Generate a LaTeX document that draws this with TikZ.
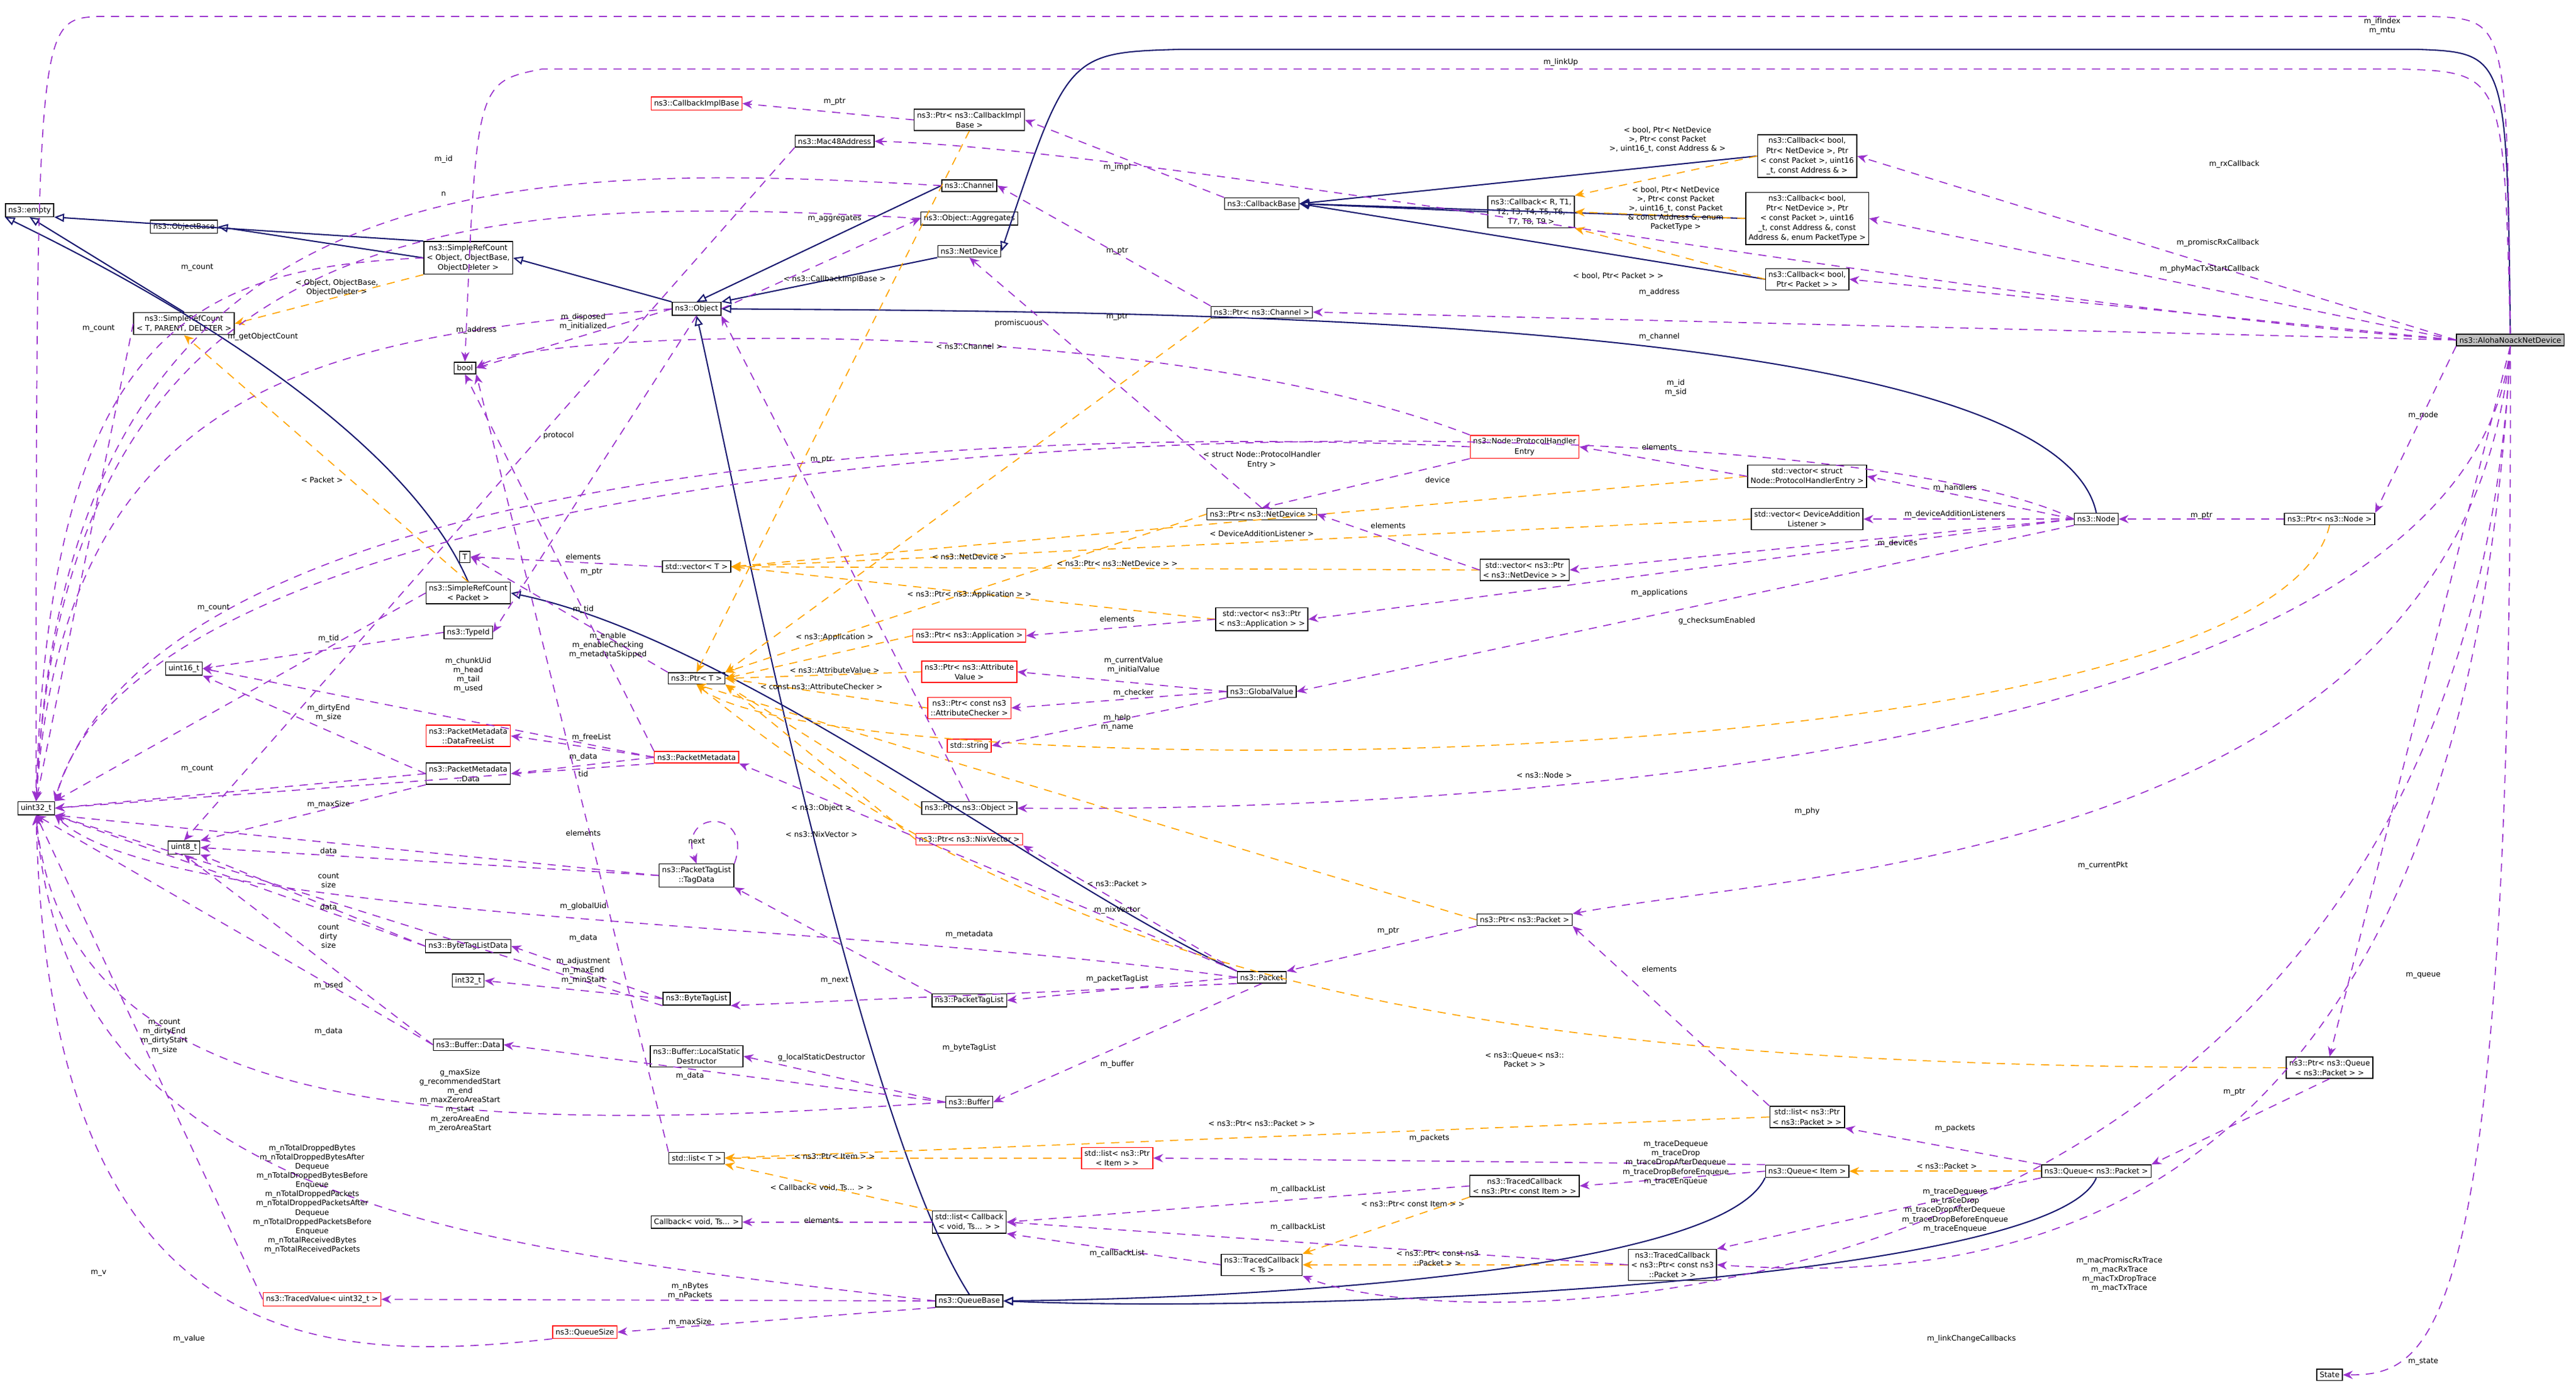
\documentclass[tikz,border=0pt]{standalone}
\usepackage{fontspec}
\newfontfamily\dox{DejaVu Sans}
\usetikzlibrary{arrows.meta}
\definecolor{usecol}{HTML}{9A32CD}
\definecolor{tplcol}{HTML}{FFA500}
\definecolor{inhcol}{HTML}{191970}
\tikzset{
  cls/.style={draw=black, fill=white, line width=1.5pt, font=\dox\fontsize{13}{17}\selectfont, inner sep=5pt, align=center},
  redcls/.style={cls, draw=red},
  maincls/.style={cls, fill=black!25},
  lbl/.style={font=\dox\fontsize{13}{16}\selectfont, align=center, inner sep=1pt},
  use/.style={draw=usecol, line width=1.8pt, dash pattern=on 5mm off 4mm, -{Stealth[length=6mm,width=5mm]}},
  tpl/.style={draw=tplcol, line width=1.8pt, dash pattern=on 5mm off 4mm, -{Stealth[length=6mm,width=5mm]}},
  inh/.style={draw=inhcol, line width=2.2pt, -{Triangle[open,length=6mm,width=5mm]}},
}
\begin{document}
\begin{tikzpicture}[x=1mm,y=-1mm]
\useasboundingbox[fill=white] (0,0) rectangle (1568,848);
% classes
\node[maincls] (aloha) at (1528,207) {ns3::AlohaNoackNetDevice};
\node[cls] (empty) at (18,128) {ns3::empty};
\node[cls] (objbase) at (112,138) {ns3::ObjectBase};
\node[cls] (srcobj) at (285,157) {ns3::SimpleRefCount\\< Object, ObjectBase,\\ ObjectDeleter >};
\node[cls] (srctpd) at (112,197) {ns3::SimpleRefCount\\< T, PARENT, DELETER >};
\node[cls] (boolt) at (283,224) {bool};
\node[cls] (uint32) at (22,492) {uint32\_t};
\node[redcls] (cbimpl) at (424,63) {ns3::CallbackImplBase};
\node[cls] (mac48) at (508,86) {ns3::Mac48Address};
\node[cls] (ptrcbimpl) at (590,73) {ns3::Ptr< ns3::CallbackImpl\\Base >};
\node[cls] (channel) at (590,113) {ns3::Channel};
\node[cls] (aggr) at (590,133) {ns3::Object::Aggregates};
\node[cls] (netdev) at (590,153) {ns3::NetDevice};
\node[cls] (object) at (424,188) {ns3::Object};
\node[cls] (cbbase) at (768,124) {ns3::CallbackBase};
\node[cls] (cbrx) at (1100,95) {ns3::Callback< bool,\\ Ptr< NetDevice >, Ptr\\< const Packet >, uint16\\\_t, const Address \& >};
\node[cls] (cbgen) at (932,129) {ns3::Callback< R, T1,\\ T2, T3, T4, T5, T6,\\ T7, T8, T9 >};
\node[cls] (cbprom) at (1100,133) {ns3::Callback< bool,\\ Ptr< NetDevice >, Ptr\\< const Packet >, uint16\\\_t, const Address \&, const\\ Address \&, enum PacketType >};
\node[cls] (cbtx) at (1100,170) {ns3::Callback< bool,\\ Ptr< Packet > >};
\node[cls] (ptrchan) at (768,190) {ns3::Ptr< ns3::Channel >};
\node[redcls] (phe) at (928,272) {ns3::Node::ProtocolHandler\\Entry};
\node[cls] (vecphe) at (1100,290) {std::vector< struct\\ Node::ProtocolHandlerEntry >};
\node[cls] (vecdal) at (1100,316) {std::vector< DeviceAddition\\Listener >};
\node[cls] (node) at (1276,316) {ns3::Node};
\node[cls] (ptrnode) at (1418,316) {ns3::Ptr< ns3::Node >};
\node[cls] (ptrnetdev) at (768,313) {ns3::Ptr< ns3::NetDevice >};
\node[cls] (vecnetdev) at (928,347) {std::vector< ns3::Ptr\\< ns3::NetDevice > >};
\node[cls] (vecapp) at (768,377) {std::vector< ns3::Ptr\\< ns3::Application > >};
\node[redcls] (ptrapp) at (590,387) {ns3::Ptr< ns3::Application >};
\node[cls] (tt) at (283,339) {T};
\node[cls] (vect) at (424,345) {std::vector< T >};
\node[cls] (srcpkt) at (285,361) {ns3::SimpleRefCount\\< Packet >};
\node[cls] (typeid) at (285,385) {ns3::TypeId};
\node[cls] (uint16) at (112,407) {uint16\_t};
\node[cls] (ptrt) at (424,413) {ns3::Ptr< T >};
\node[redcls] (ptrattr) at (590,409) {ns3::Ptr< ns3::Attribute\\Value >};
\node[redcls] (ptrchk) at (590,431) {ns3::Ptr< const ns3\\::AttributeChecker >};
\node[cls] (globval) at (768,421) {ns3::GlobalValue};
\node[redcls] (string) at (590,454) {std::string};
\node[redcls] (freelist) at (285,448) {ns3::PacketMetadata\\::DataFreeList};
\node[redcls] (pktmeta) at (424,461) {ns3::PacketMetadata};
\node[cls] (metadata) at (285,471) {ns3::PacketMetadata\\::Data};
\node[cls] (uint8) at (112,516) {uint8\_t};
\node[cls] (ptrobj) at (590,492) {ns3::Ptr< ns3::Object >};
\node[redcls] (ptrnix) at (590,511) {ns3::Ptr< ns3::NixVector >};
\node[cls] (tagdata) at (424,533) {ns3::PacketTagList\\::TagData};
\node[cls] (btldata) at (285,576) {ns3::ByteTagListData};
\node[cls] (int32) at (285,597) {int32\_t};
\node[cls] (btl) at (424,608) {ns3::ByteTagList};
\node[cls] (ptl) at (590,609) {ns3::PacketTagList};
\node[cls] (packet) at (768,595) {ns3::Packet};
\node[cls] (ptrpkt) at (928,560) {ns3::Ptr< ns3::Packet >};
\node[cls] (bufdata) at (285,636) {ns3::Buffer::Data};
\node[cls] (lsd) at (424,643) {ns3::Buffer::LocalStatic\\Destructor};
\node[cls] (buffer) at (590,671) {ns3::Buffer};
\node[cls] (listt) at (424,705) {std::list< T >};
\node[cls] (cbvoid) at (424,744) {Callback< void, Ts... >};
\node[redcls] (listitem) at (680,705) {std::list< ns3::Ptr\\< Item > >};
\node[cls] (listcb) at (590,744) {std::list< Callback\\< void, Ts... > >};
\node[cls] (listpkt) at (1100,680) {std::list< ns3::Ptr\\< ns3::Packet > >};
\node[cls] (tcitem) at (928,722) {ns3::TracedCallback\\< ns3::Ptr< const Item > >};
\node[cls] (queueitem) at (1100,713) {ns3::Queue< Item >};
\node[cls] (queuepkt) at (1276,713) {ns3::Queue< ns3::Packet >};
\node[cls] (ptrqueue) at (1418,650) {ns3::Ptr< ns3::Queue\\< ns3::Packet > >};
\node[cls] (tcts) at (768,770) {ns3::TracedCallback\\< Ts >};
\node[cls] (tcpkt) at (1018,770) {ns3::TracedCallback\\< ns3::Ptr< const ns3\\::Packet > >};
\node[cls] (queuebase) at (590,792) {ns3::QueueBase};
\node[redcls] (tracedval) at (196,791) {ns3::TracedValue< uint32\_t >};
\node[redcls] (queuesize) at (356,811) {ns3::QueueSize};
\node[cls] (state) at (1418,837) {State};

% inheritance
\draw[inh] (aloha.north) .. controls (1526,32) .. (1470,30) -- (720,30) .. controls (650,32) .. (netdev.east);
\draw[inh] (srcobj.north west) -- (empty.south east);
\draw[inh] (srctpd.north) -- (empty.south);
\draw[inh] (srcobj.west) -- (objbase.east);
\draw[inh] (object.north west) -- (srcobj.east);
\draw[inh] (channel.west) -- (object.north);
\draw[inh] (netdev.south west) -- (object.north east);
\draw[inh] (node.north) .. controls (1250,190) and (700,190) .. (object.east);
\draw[inh] (srcpkt.north) .. controls (240,250) and (60,160) .. (empty.south west);
\draw[inh] (packet.north west) .. controls (640,540) and (450,390) .. (srcpkt.east);
\draw[inh] (queuebase.north) .. controls (520,680) and (440,260) .. (object.south);
\draw[inh] (queueitem.south west) .. controls (1050,770) and (800,790) .. (queuebase.east);
\draw[inh] (queuepkt.south) .. controls (1250,780) and (800,800) .. (queuebase.east);
\foreach \c in {cbrx,cbgen,cbprom,cbtx} \draw[inh] (\c.west) -- (cbbase.east);

% templates
\draw[tpl] (cbrx.west) -- (cbgen.north east);
\draw[tpl] (cbprom.west) -- (cbgen.east);
\draw[tpl] (cbtx.west) -- (cbgen.south east);
\draw[tpl] (srcobj.south west) -- (srctpd.east);
\draw[tpl] (srcpkt.north) -- (srctpd.south);
\draw[tpl] (ptrcbimpl.south) -- (ptrt.north);
\draw[tpl] (ptrchan.south west) -- (ptrt.north east);
\draw[tpl] (vecphe.west) -- (vect.east);
\draw[tpl] (vecdal.west) -- (vect.east);
\draw[tpl] (vecnetdev.west) -- (vect.east);
\draw[tpl] (vecapp.west) -- (vect.east);
\draw[tpl] (ptrnetdev.west) -- (ptrt.north east);
\draw[tpl] (ptrapp.west) -- (ptrt.east);
\draw[tpl] (ptrattr.west) -- (ptrt.east);
\draw[tpl] (ptrchk.west) -- (ptrt.east);
\draw[tpl] (ptrnode.south) .. controls (1380,480) and (500,480) .. (ptrt.south);
\draw[tpl] (ptrobj.west) -- (ptrt.south east);
\draw[tpl] (ptrnix.west) -- (ptrt.south east);
\draw[tpl] (ptrpkt.west) -- (ptrt.south);
\draw[tpl] (ptrqueue.west) .. controls (900,650) and (650,600) .. (ptrt.south);
\draw[tpl] (listpkt.west) -- (listt.east);
\draw[tpl] (listitem.west) -- (listt.east);
\draw[tpl] (listcb.north west) -- (listt.south east);
\draw[tpl] (queuepkt.west) -- (queueitem.east);
\draw[tpl] (tcitem.south west) -- (tcts.north east);
\draw[tpl] (tcpkt.west) -- (tcts.east);

% usage
\draw[use] (aloha.north) .. controls (1526,12) .. (1480,10) -- (60,10) .. controls (22,12) .. (uint32.north);
\draw[use] (aloha.north) .. controls (1524,44) .. (1460,42) -- (330,42) .. controls (290,50) .. (boolt.north);
\draw[use] (aloha.west) -- (cbrx.east);
\draw[use] (aloha.west) -- (cbprom.east);
\draw[use] (aloha.west) -- (cbtx.east);
\draw[use] (aloha.west) .. controls (1200,185) and (700,90) .. (mac48.east);
\draw[use] (aloha.west) -- (ptrchan.east);
\draw[use] (aloha.south west) -- (ptrnode.north east);
\draw[use] (aloha.south) .. controls (1500,480) and (800,494) .. (ptrobj.east);
\draw[use] (aloha.south) .. controls (1500,520) and (1100,530) .. (ptrpkt.north east);
\draw[use] (aloha.south) -- (ptrqueue.north);
\draw[use] (aloha.south) .. controls (1500,770) and (1200,780) .. (tcpkt.east);
\draw[use] (aloha.south) .. controls (1500,810) and (900,820) .. (tcts.south east);
\draw[use] (aloha.south) .. controls (1530,820) and (1480,837) .. (state.east);
\draw[use] (ptrnode.west) -- (node.east);
\draw[use] (node.west) .. controls (1100,236) and (100,236) .. (uint32.north east);
\draw[use] (node.west) -- (vecphe.east);
\draw[use] (node.west) -- (vecdal.east);
\draw[use] (node.west) -- (vecnetdev.east);
\draw[use] (node.west) -- (vecapp.east);
\draw[use] (node.south west) -- (globval.east);
\draw[use] (vecphe.west) -- (phe.east);
\draw[use] (phe.south west) -- (ptrnetdev.north);
\draw[use] (phe.west) .. controls (700,262) and (100,262) .. (uint32.north east);
\draw[use] (phe.north west) .. controls (700,190) and (330,200) .. (boolt.east);
\draw[use] (vecnetdev.west) -- (ptrnetdev.east);
\draw[use] (ptrnetdev.north) -- (netdev.south);
\draw[use] (vecapp.west) -- (ptrapp.east);
\draw[use] (globval.west) -- (ptrattr.east);
\draw[use] (globval.west) -- (ptrchk.east);
\draw[use] (globval.south west) -- (string.east);
\draw[use] (ptrchan.north west) -- (channel.east);
\draw[use] (channel.west) .. controls (300,97) and (40,100) .. (uint32.north);
\draw[use] (ptrcbimpl.west) -- (cbimpl.east);
\draw[use] (cbbase.north west) -- (ptrcbimpl.east);
\draw[use] (mac48.south west) -- (uint8.north);
\draw[use] (object.east) -- (aggr.west);
\draw[use] (aggr.west) .. controls (300,118) and (40,120) .. (uint32.north);
\draw[use] (object.west) -- (boolt.east);
\draw[use] (object.west) .. controls (200,205) and (40,230) .. (uint32.north);
\draw[use] (object.south) -- (typeid.east);
\draw[use] (srcobj.west) .. controls (120,163) and (30,200) .. (uint32.north);
\draw[use] (srctpd.west) -- (uint32.north);
\draw[use] (srcpkt.west) -- (uint32.north east);
\draw[use] (typeid.west) -- (uint16.east);
\draw[use] (ptrt.north west) -- (tt.east);
\draw[use] (vect.west) -- (tt.east);
\draw[use] (pktmeta.west) -- (uint16.east);
\draw[use] (pktmeta.north west) -- (boolt.south);
\draw[use] (pktmeta.west) -- (freelist.east);
\draw[use] (pktmeta.west) -- (metadata.east);
\draw[use] (pktmeta.south west) -- (uint32.east);
\draw[use] (metadata.west) -- (uint16.south east);
\draw[use] (metadata.west) -- (uint32.east);
\draw[use] (metadata.south west) -- (uint8.north east);
\draw[use] (tagdata.west) -- (uint8.east);
\draw[use] (tagdata.west) -- (uint32.south east);
\draw[use] (tagdata.north east) to[out=70,in=110,looseness=4] (tagdata.north);
\draw[use] (listt.north west) -- (boolt.south east);
\draw[use] (btldata.west) -- (uint8.south east);
\draw[use] (btldata.west) -- (uint32.south east);
\draw[use] (btl.west) -- (btldata.east);
\draw[use] (btl.west) -- (int32.east);
\draw[use] (btl.south west) -- (uint32.south east);
\draw[use] (bufdata.west) -- (uint8.south);
\draw[use] (bufdata.west) -- (uint32.south);
\draw[use] (buffer.west) -- (bufdata.east);
\draw[use] (buffer.west) -- (lsd.east);
\draw[use] (buffer.west) .. controls (300,690) and (40,690) .. (uint32.south);
\draw[use] (packet.south) -- (buffer.east);
\draw[use] (packet.south west) -- (btl.south east);
\draw[use] (packet.west) -- (ptl.east);
\draw[use] (packet.north west) -- (pktmeta.south east);
\draw[use] (packet.north west) -- (ptrnix.south east);
\draw[use] (packet.west) .. controls (500,560) and (100,560) .. (uint32.south east);
\draw[use] (ptl.north west) -- (tagdata.south east);
\draw[use] (ptrpkt.south west) -- (packet.north east);
\draw[use] (ptrobj.north) -- (object.south east);
\draw[use] (ptrqueue.south) -- (queuepkt.north east);
\draw[use] (queuepkt.north west) -- (listpkt.south east);
\draw[use] (queuepkt.south west) -- (tcpkt.north east);
\draw[use] (queueitem.north west) -- (listitem.east);
\draw[use] (queueitem.west) -- (tcitem.east);
\draw[use] (listpkt.north west) -- (ptrpkt.south east);
\draw[use] (tcitem.west) -- (listcb.east);
\draw[use] (tcpkt.west) -- (listcb.east);
\draw[use] (tcts.west) -- (listcb.south east);
\draw[use] (listcb.west) -- (cbvoid.east);
\draw[use] (queuebase.west) .. controls (300,760) and (40,740) .. (uint32.south);
\draw[use] (queuebase.west) -- (tracedval.east);
\draw[use] (queuebase.south west) -- (queuesize.east);
\draw[use] (tracedval.west) -- (uint32.south);
\draw[use] (queuesize.south west) .. controls (200,830) and (30,830) .. (uint32.south);

% labels
\node[lbl] (l1) at (1450,16) {m\_ifIndex\\m\_mtu};
\node[lbl] (l2) at (950,38) {m\_linkUp};
\node[lbl] (l3) at (1360,100) {m\_rxCallback};
\node[lbl] (l4) at (1350,148) {m\_promiscRxCallback};
\node[lbl] (l5) at (1345,164) {m\_phyMacTxStartCallback};
\node[lbl] (l6) at (1010,178) {m\_address};
\node[lbl] (l7) at (1010,205) {m\_channel};
\node[lbl] (l8) at (1475,253) {m\_node};
\node[lbl] (l9) at (1100,494) {m\_phy};
\node[lbl] (l10) at (1280,527) {m\_currentPkt};
\node[lbl] (l11) at (1475,594) {m\_queue};
\node[lbl] (l12) at (1290,776) {m\_macPromiscRxTrace\\m\_macRxTrace\\m\_macTxDropTrace\\m\_macTxTrace};
\node[lbl] (l13) at (1200,815) {m\_linkChangeCallbacks};
\node[lbl] (l14) at (1475,829) {m\_state};
\node[lbl] (l15) at (1340,314) {m\_ptr};
\node[lbl] (l16) at (1020,236) {m\_id\\m\_sid};
\node[lbl] (l17) at (1190,297) {m\_handlers};
\node[lbl] (l18) at (1190,313) {m\_deviceAdditionListeners};
\node[lbl] (l19) at (1155,331) {m\_devices};
\node[lbl] (l20) at (1010,361) {m\_applications};
\node[lbl] (l21) at (1045,378) {g\_checksumEnabled};
\node[lbl] (l22) at (1010,272) {elements};
\node[lbl] (l23) at (875,292) {device};
\node[lbl] (l24) at (340,265) {protocol};
\node[lbl] (l25) at (620,197) {promiscuous};
\node[lbl] (l26) at (845,320) {elements};
\node[lbl] (l27) at (680,193) {m\_ptr};
\node[lbl] (l28) at (680,377) {elements};
\node[lbl] (l29) at (690,405) {m\_currentValue\\m\_initialValue};
\node[lbl] (l30) at (690,422) {m\_checker};
\node[lbl] (l31) at (680,440) {m\_help\\m\_name};
\node[lbl] (l32) at (680,153) {m\_ptr};
\node[lbl] (l33) at (270,97) {m\_id};
\node[lbl] (l34) at (508,62) {m\_ptr};
\node[lbl] (l35) at (680,102) {m\_impl};
\node[lbl] (l36) at (290,201) {m\_address};
\node[lbl] (l37) at (508,133) {m\_aggregates};
\node[lbl] (l38) at (270,118) {n};
\node[lbl] (l39) at (355,196) {m\_disposed\\m\_initialized};
\node[lbl] (l40) at (160,205) {m\_getObjectCount};
\node[lbl] (l41) at (355,371) {m\_tid};
\node[lbl] (l42) at (120,163) {m\_count};
\node[lbl] (l43) at (60,200) {m\_count};
\node[lbl] (l44) at (130,370) {m\_count};
\node[lbl] (l45) at (200,389) {m\_tid};
\node[lbl] (l46) at (360,348) {m\_ptr};
\node[lbl] (l47) at (355,339) {elements};
\node[lbl] (l48) at (285,411) {m\_chunkUid\\m\_head\\m\_tail\\m\_used};
\node[lbl] (l49) at (370,393) {m\_enable\\m\_enableChecking\\m\_metadataSkipped};
\node[lbl] (l50) at (360,449) {m\_freeList};
\node[lbl] (l51) at (355,461) {m\_data};
\node[lbl] (l52) at (200,490) {m\_maxSize};
\node[lbl] (l53) at (200,434) {m\_dirtyEnd\\m\_size};
\node[lbl] (l54) at (120,468) {m\_count};
\node[lbl] (l55) at (200,518) {data};
\node[lbl] (l56) at (200,536) {count\\size};
\node[lbl] (l57) at (424,512) {next};
\node[lbl] (l58) at (355,471) {tid};
\node[lbl] (l59) at (200,552) {data};
\node[lbl] (l60) at (200,570) {count\\dirty\\size};
\node[lbl] (l61) at (355,571) {m\_data};
\node[lbl] (l62) at (355,591) {m\_adjustment\\m\_maxEnd\\m\_minStart};
\node[lbl] (l63) at (200,600) {m\_used};
\node[lbl] (l64) at (200,628) {m\_data};
\node[lbl] (l65) at (100,631) {m\_count\\m\_dirtyEnd\\m\_dirtyStart\\m\_size};
\node[lbl] (l66) at (420,655) {m\_data};
\node[lbl] (l67) at (500,644) {g\_localStaticDestructor};
\node[lbl] (l68) at (280,670) {g\_maxSize\\g\_recommendedStart\\m\_end\\m\_maxZeroAreaStart\\m\_start\\m\_zeroAreaEnd\\m\_zeroAreaStart};
\node[lbl] (l69) at (680,648) {m\_buffer};
\node[lbl] (l70) at (590,638) {m\_byteTagList};
\node[lbl] (l71) at (680,596) {m\_packetTagList};
\node[lbl] (l72) at (590,569) {m\_metadata};
\node[lbl] (l73) at (680,554) {m\_nixVector};
\node[lbl] (l74) at (355,552) {m\_globalUid};
\node[lbl] (l75) at (508,597) {m\_next};
\node[lbl] (l76) at (845,567) {m\_ptr};
\node[lbl] (l77) at (500,280) {m\_ptr};
\node[lbl] (l78) at (1360,665) {m\_ptr};
\node[lbl] (l79) at (1190,687) {m\_packets};
\node[lbl] (l80) at (1190,737) {m\_traceDequeue\\m\_traceDrop\\m\_traceDropAfterDequeue\\m\_traceDropBeforeEnqueue\\m\_traceEnqueue};
\node[lbl] (l81) at (870,693) {m\_packets};
\node[lbl] (l82) at (1020,708) {m\_traceDequeue\\m\_traceDrop\\m\_traceDropAfterDequeue\\m\_traceDropBeforeEnqueue\\m\_traceEnqueue};
\node[lbl] (l83) at (1010,590) {elements};
\node[lbl] (l84) at (790,724) {m\_callbackList};
\node[lbl] (l85) at (790,747) {m\_callbackList};
\node[lbl] (l86) at (680,763) {m\_callbackList};
\node[lbl] (l87) at (500,743) {elements};
\node[lbl] (l88) at (355,507) {elements};
\node[lbl] (l89) at (190,730) {m\_nTotalDroppedBytes\\m\_nTotalDroppedBytesAfter\\Dequeue\\m\_nTotalDroppedBytesBefore\\Enqueue\\m\_nTotalDroppedPackets\\m\_nTotalDroppedPacketsAfter\\Dequeue\\m\_nTotalDroppedPacketsBefore\\Enqueue\\m\_nTotalReceivedBytes\\m\_nTotalReceivedPackets};
\node[lbl] (l90) at (420,786) {m\_nBytes\\m\_nPackets};
\node[lbl] (l91) at (420,805) {m\_maxSize};
\node[lbl] (l92) at (60,775) {m\_v};
\node[lbl] (l93) at (115,815) {m\_value};
% template labels
\node[lbl] (t1) at (1015,85) {< bool, Ptr< NetDevice\\>, Ptr< const Packet\\>, uint16\_t, const Address \& >};
\node[lbl] (t2) at (1020,127) {< bool, Ptr< NetDevice\\>, Ptr< const Packet\\>, uint16\_t, const Packet\\\& const Address \&, enum\\PacketType >};
\node[lbl] (t3) at (985,168) {< bool, Ptr< Packet > >};
\node[lbl] (t4) at (205,175) {< Object, ObjectBase,\\ObjectDeleter >};
\node[lbl] (t5) at (196,292) {< Packet >};
\node[lbl] (t6) at (508,170) {< ns3::CallbackImplBase >};
\node[lbl] (t7) at (590,211) {< ns3::Channel >};
\node[lbl] (t8) at (768,280) {< struct Node::ProtocolHandler\\Entry >};
\node[lbl] (t9) at (768,325) {< DeviceAdditionListener >};
\node[lbl] (t10) at (680,343) {< ns3::Ptr< ns3::NetDevice > >};
\node[lbl] (t11) at (590,362) {< ns3::Ptr< ns3::Application > >};
\node[lbl] (t12) at (590,339) {< ns3::NetDevice >};
\node[lbl] (t13) at (508,388) {< ns3::Application >};
\node[lbl] (t14) at (508,408) {< ns3::AttributeValue >};
\node[lbl] (t15) at (500,418) {< const ns3::AttributeChecker >};
\node[lbl] (t16) at (940,472) {< ns3::Node >};
\node[lbl] (t17) at (500,492) {< ns3::Object >};
\node[lbl] (t18) at (500,508) {< ns3::NixVector >};
\node[lbl] (t19) at (680,538) {< ns3::Packet >};
\node[lbl] (t20) at (928,645) {< ns3::Queue< ns3::\\Packet > >};
\node[lbl] (t21) at (768,684) {< ns3::Ptr< ns3::Packet > >};
\node[lbl] (t22) at (508,704) {< ns3::Ptr< Item > >};
\node[lbl] (t23) at (500,723) {< Callback< void, Ts... > >};
\node[lbl] (t24) at (1185,710) {< ns3::Packet >};
\node[lbl] (t25) at (860,733) {< ns3::Ptr< const Item > >};
\node[lbl] (t26) at (875,766) {< ns3::Ptr< const ns3\\::Packet > >};
\end{tikzpicture}
\end{document}
